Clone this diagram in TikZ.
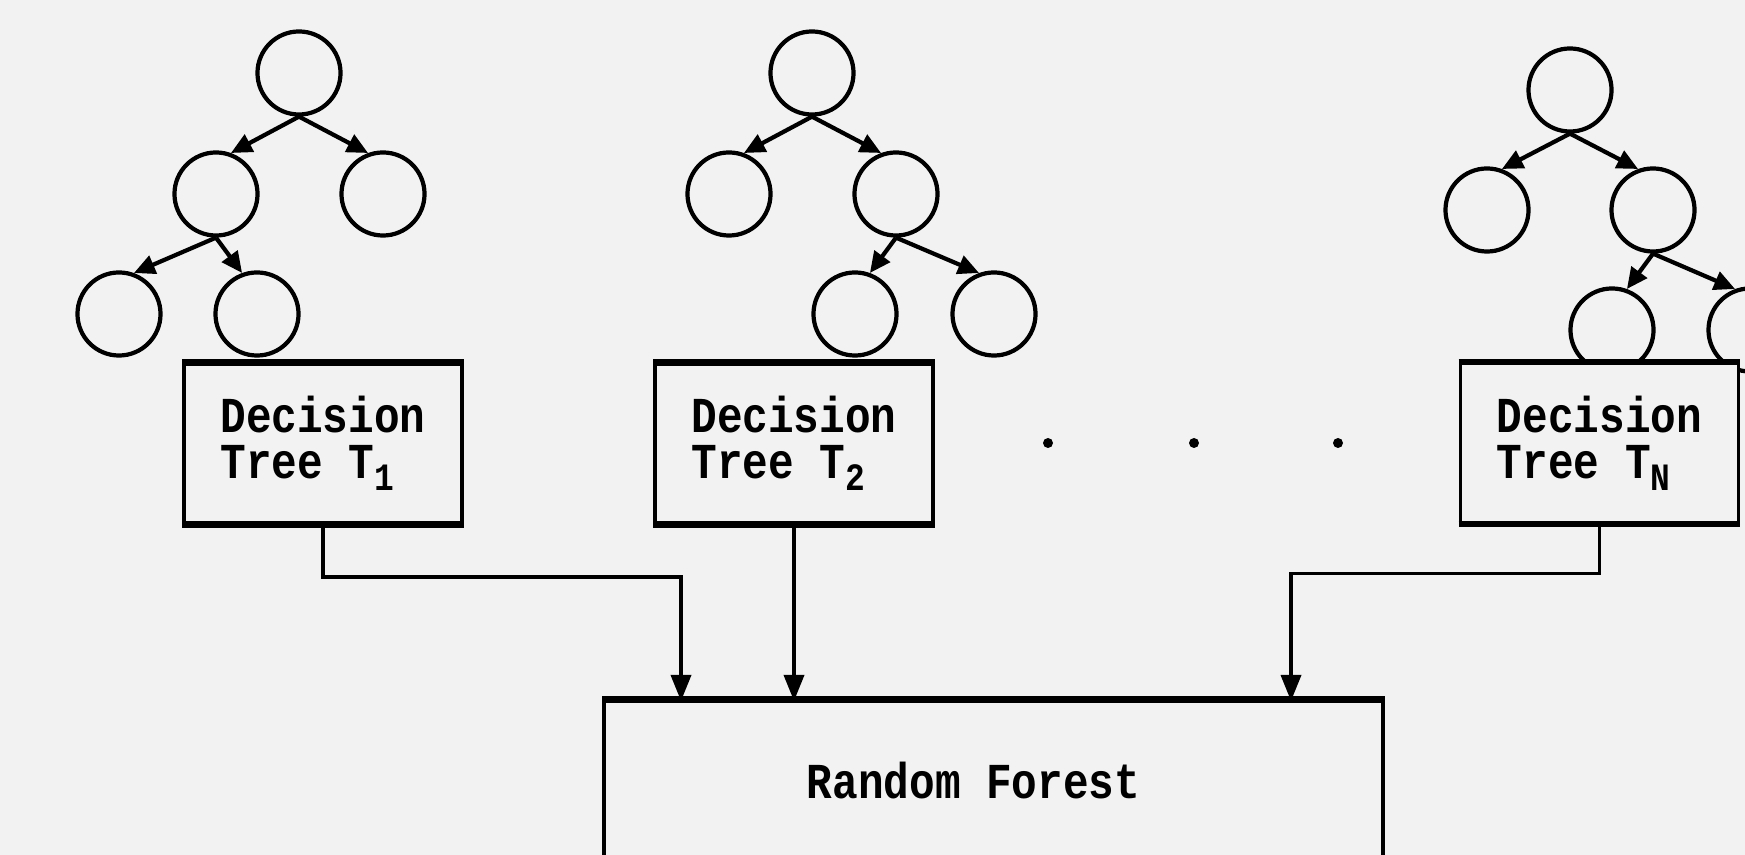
\documentclass[tikz,border=0pt]{standalone}
\usepackage{fontspec}
\setmonofont[FakeStretch=0.85]{Liberation Mono}
\usetikzlibrary{arrows.meta}
\definecolor{paper}{RGB}{242,242,242}
\newcommand{\boxfont}{\ttfamily\bfseries\fontsize{14.3}{13}\selectfont}
\newcommand{\tsub}[1]{\raisebox{-0.45ex}{\fontsize{11}{11}\selectfont #1}}
\tikzset{
  leaf/.style={circle, draw, line width=1.2pt, minimum size=0.83cm, inner sep=0pt},
  treebox/.style={rectangle, draw, line width=1pt, minimum width=2.78cm, minimum height=1.59cm, align=left, font=\boxfont},
  branch/.style={line width=1.2pt, -{Triangle[length=0.21cm,width=0.19cm]}},
  flow/.style={line width=1pt, -{Triangle[length=0.26cm,width=0.2cm]}}
}
\begin{document}
\begin{tikzpicture}[x=0.01cm, y=-0.01cm]
  \path[use as bounding box, fill=paper] (0,0) rectangle (1745,855);
  \clip (0,0) rectangle (1745,855);
  % tree 1
  \node[leaf] (t1r) at (299,73) {};
  \node[leaf] (t1a) at (216,194) {};
  \node[leaf] (t1b) at (383,194) {};
  \node[leaf] (t1c) at (119,314) {};
  \node[leaf] (t1d) at (257,314) {};
  \draw[branch] (t1r.south) -- (t1a.70);
  \draw[branch] (t1r.south) -- (t1b.110);
  \draw[branch] (t1a.south) -- (t1c.70);
  \draw[branch] (t1a.south) -- (t1d.110);
  % tree 2
  \node[leaf] (t2r) at (812,73) {};
  \node[leaf] (t2a) at (729,194) {};
  \node[leaf] (t2b) at (896,194) {};
  \node[leaf] (t2c) at (855,314) {};
  \node[leaf] (t2d) at (994,314) {};
  \draw[branch] (t2r.south) -- (t2a.70);
  \draw[branch] (t2r.south) -- (t2b.110);
  \draw[branch] (t2b.south) -- (t2c.70);
  \draw[branch] (t2b.south) -- (t2d.110);
  % tree N
  \node[leaf] (tNr) at (1570,90) {};
  \node[leaf] (tNa) at (1487,210) {};
  \node[leaf] (tNb) at (1653,210) {};
  \node[leaf] (tNc) at (1612,330) {};
  \node[leaf] (tNd) at (1750,330) {};
  \draw[branch] (tNr.south) -- (tNa.70);
  \draw[branch] (tNr.south) -- (tNb.110);
  \draw[branch] (tNb.south) -- (tNc.70);
  \draw[branch] (tNb.south) -- (tNd.110);
  % boxes
  \node[treebox, fill=paper] (b1) at (323,443.5) {Decision\\Tree T\tsub{1}};
  \node[treebox, fill=paper] (b2) at (794,443.5) {Decision\\Tree T\tsub{2}};
  \node[treebox, fill=paper] (bN) at (1599.5,443) {Decision\\Tree T\tsub{N}};
  \node[treebox, minimum width=7.79cm, minimum height=1.6cm] (rf) at (993.5,781) {Random Forest\hspace*{0.4cm}};
  \foreach \b in {b1,b2,bN,rf}
    \draw[line width=1.8pt] (\b.north west) -- (\b.north east) (\b.south west) -- (\b.south east);
  \foreach \x in {1048,1194,1338}
    \fill (\x,443) circle (5);
  % to the forest
  \coordinate (in1) at (681,701);
  \coordinate (in2) at (794,701);
  \coordinate (inN) at (1291,701);
  \draw[flow] (b1.south) -- ++(0,52) -| (in1);
  \draw[flow] (b2.south) -- (in2);
  \draw[flow] (bN.south) -- ++(0,49) -| (inN);
\end{tikzpicture}
\end{document}
